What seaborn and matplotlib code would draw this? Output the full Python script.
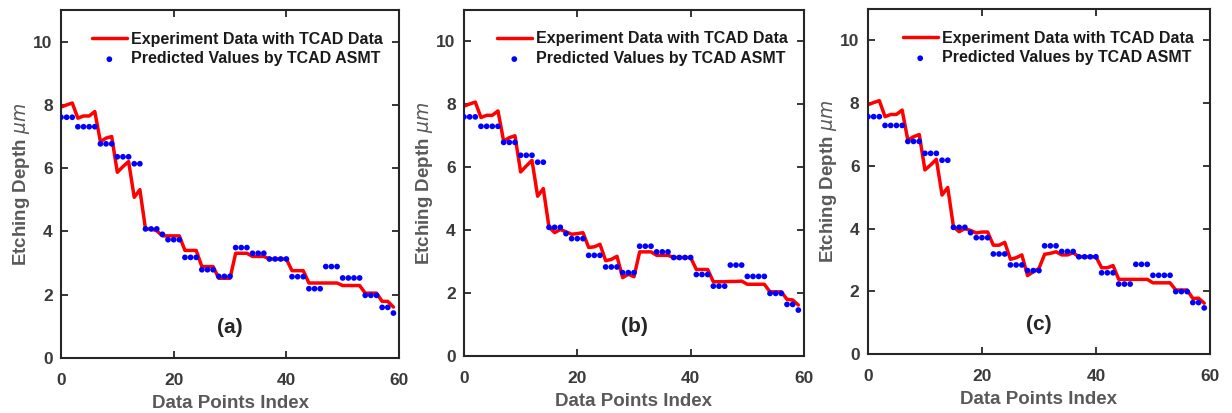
import matplotlib
matplotlib.use("Agg")
import matplotlib.pyplot as plt
import seaborn as sns
import pandas as pd

# Etching depth (um) per data point, three model variants
index = list(range(60))

measured_a = [7.93, 8.00, 8.06, 7.58, 7.65, 7.65, 7.79, 6.84, 6.95, 7.00,
              5.87, 6.05, 6.21, 5.08, 5.32, 4.08, 4.08, 4.02, 3.86, 3.86,
              3.86, 3.86, 3.40, 3.40, 3.40, 2.89, 2.89, 2.89, 2.52, 2.52,
              2.52, 3.31, 3.31, 3.31, 3.21, 3.21, 3.21, 3.13, 3.13, 3.13,
              3.13, 2.76, 2.76, 2.76, 2.37, 2.37, 2.37, 2.37, 2.37, 2.37,
              2.29, 2.29, 2.29, 2.29, 2.05, 2.05, 2.05, 1.79, 1.79, 1.61]
predicted_a = [7.61, 7.61, 7.61, 7.31, 7.31, 7.31, 7.31, 6.77, 6.77, 6.77,
               6.36, 6.36, 6.36, 6.14, 6.14, 4.08, 4.08, 4.08, 3.91, 3.74,
               3.74, 3.74, 3.18, 3.18, 3.18, 2.79, 2.79, 2.79, 2.58, 2.58,
               2.58, 3.49, 3.49, 3.49, 3.31, 3.31, 3.31, 3.13, 3.13, 3.13,
               3.13, 2.57, 2.57, 2.57, 2.19, 2.19, 2.19, 2.89, 2.89, 2.89,
               2.53, 2.53, 2.53, 2.53, 1.98, 1.98, 1.98, 1.60, 1.60, 1.42]

measured_b = [7.94, 8.01, 8.07, 7.58, 7.65, 7.65, 7.79, 6.83, 6.94, 7.00,
              5.85, 6.04, 6.22, 5.08, 5.32, 4.10, 3.92, 4.02, 3.95, 3.87,
              3.89, 3.92, 3.45, 3.47, 3.55, 3.03, 3.07, 3.17, 2.49, 2.60,
              2.52, 3.31, 3.31, 3.31, 3.20, 3.20, 3.20, 3.13, 3.13, 3.13,
              3.13, 2.75, 2.75, 2.75, 2.36, 2.36, 2.36, 2.37, 2.37, 2.38,
              2.28, 2.28, 2.28, 2.28, 2.04, 2.04, 2.04, 1.80, 1.78, 1.62]
predicted_b = [7.60, 7.60, 7.60, 7.30, 7.30, 7.30, 7.30, 6.79, 6.79, 6.79,
               6.38, 6.38, 6.38, 6.16, 6.16, 4.09, 4.09, 4.09, 3.89, 3.73,
               3.73, 3.73, 3.20, 3.20, 3.20, 2.83, 2.83, 2.83, 2.65, 2.65,
               2.65, 3.49, 3.49, 3.49, 3.31, 3.31, 3.31, 3.13, 3.13, 3.13,
               3.13, 2.59, 2.59, 2.59, 2.22, 2.22, 2.22, 2.89, 2.89, 2.89,
               2.53, 2.53, 2.53, 2.53, 1.99, 1.99, 1.99, 1.64, 1.64, 1.46]

measured_c = [7.95, 8.02, 8.08, 7.57, 7.64, 7.64, 7.78, 6.82, 6.93, 7.00,
              5.87, 6.03, 6.21, 5.07, 5.31, 4.06, 3.90, 4.00, 3.94, 3.86,
              3.89, 3.89, 3.47, 3.47, 3.56, 3.02, 3.07, 3.16, 2.50, 2.62,
              2.73, 3.18, 3.21, 3.26, 3.16, 3.16, 3.23, 3.10, 3.10, 3.10,
              3.10, 2.75, 2.75, 2.82, 2.38, 2.38, 2.38, 2.38, 2.38, 2.38,
              2.27, 2.27, 2.27, 2.27, 2.04, 2.04, 2.04, 1.77, 1.78, 1.62]
predicted_c = [7.57, 7.57, 7.57, 7.29, 7.29, 7.29, 7.29, 6.78, 6.78, 6.78,
               6.40, 6.40, 6.40, 6.18, 6.18, 4.04, 4.04, 4.04, 3.87, 3.71,
               3.71, 3.71, 3.19, 3.19, 3.19, 2.84, 2.84, 2.84, 2.66, 2.66,
               2.66, 3.45, 3.45, 3.45, 3.27, 3.27, 3.27, 3.10, 3.10, 3.10,
               3.10, 2.59, 2.59, 2.59, 2.23, 2.23, 2.23, 2.86, 2.86, 2.86,
               2.51, 2.51, 2.51, 2.51, 1.99, 1.99, 1.99, 1.64, 1.64, 1.47]

panel_labels = ["(a)", "(b)", "(c)"]
x_ticks = [0, 20, 40, 60]
y_ticks = [0, 2, 4, 6, 8, 10]

sns.set_theme(style="white")
plt.rcParams["font.family"] = ["Liberation Sans", "DejaVu Sans"]
plt.rcParams["mathtext.fontset"] = "dejavusans"
plt.rcParams.update({
    "xtick.direction": "in", "ytick.direction": "in",
    "xtick.top": True, "ytick.right": True,
    "xtick.bottom": True, "ytick.left": True,
})

fig = plt.figure(figsize=(12.32, 4.13), dpi=100)
positions = [
    [0.0495, 0.1332, 0.2744, 0.8426],
    [0.3766, 0.1380, 0.2760, 0.8380],
    [0.7045, 0.1429, 0.2776, 0.8350],
]
series = [(measured_a, predicted_a), (measured_b, predicted_b),
          (measured_c, predicted_c)]

tick_color = "#3a3a3a"
label_color = "#595959"

for pos, (meas, pred), tag in zip(positions, series, panel_labels):
    ax = fig.add_axes(pos)
    df = pd.DataFrame({"idx": index, "measured": meas, "predicted": pred})
    sns.lineplot(data=df, x="idx", y="measured", ax=ax, color="#ff0000",
                 linewidth=2.5, label="Experiment Data with TCAD Data")
    sns.scatterplot(data=df, x="idx", y="predicted", ax=ax, color="#0000ff",
                    s=17, edgecolor="none",
                    label="Predicted Values by TCAD ASMT", zorder=3)
    ax.set_xlim(0, 60)
    ax.set_ylim(0, 11)
    ax.set_xticks(x_ticks)
    ax.set_yticks(y_ticks)
    ax.tick_params(axis="both", which="both", length=5, width=1.3,
                   color="#262626", labelsize=12.5, labelcolor=tick_color)
    ax.tick_params(axis="x", pad=11)
    ax.tick_params(axis="y", pad=6)
    for lbl in ax.get_xticklabels() + ax.get_yticklabels():
        lbl.set_fontweight("bold")
    for sp in ax.spines.values():
        sp.set_color("#262626")
        sp.set_linewidth(1.5)
    ax.set_xlabel("Data Points Index", fontsize=13.5, fontweight="bold",
                  color=label_color, labelpad=5)
    ax.set_ylabel(r"Etching Depth $\mu m$", fontsize=13.5, fontweight="bold",
                  color=label_color, labelpad=1)
    ax.text(30, 0.95, tag, ha="center", va="center", fontsize=15,
            fontweight="bold", color="#262626")
    leg = ax.legend(loc="upper right", frameon=False,
                    prop={"weight": "bold", "size": 11.5},
                    handlelength=2.2, handletextpad=0.25,
                    borderaxespad=0.3, labelspacing=0.3,
                    bbox_to_anchor=(0.985, 0.97))
    for txt in leg.get_texts():
        txt.set_color("#1a1a1a")

fig.savefig("out.png", dpi=100)
